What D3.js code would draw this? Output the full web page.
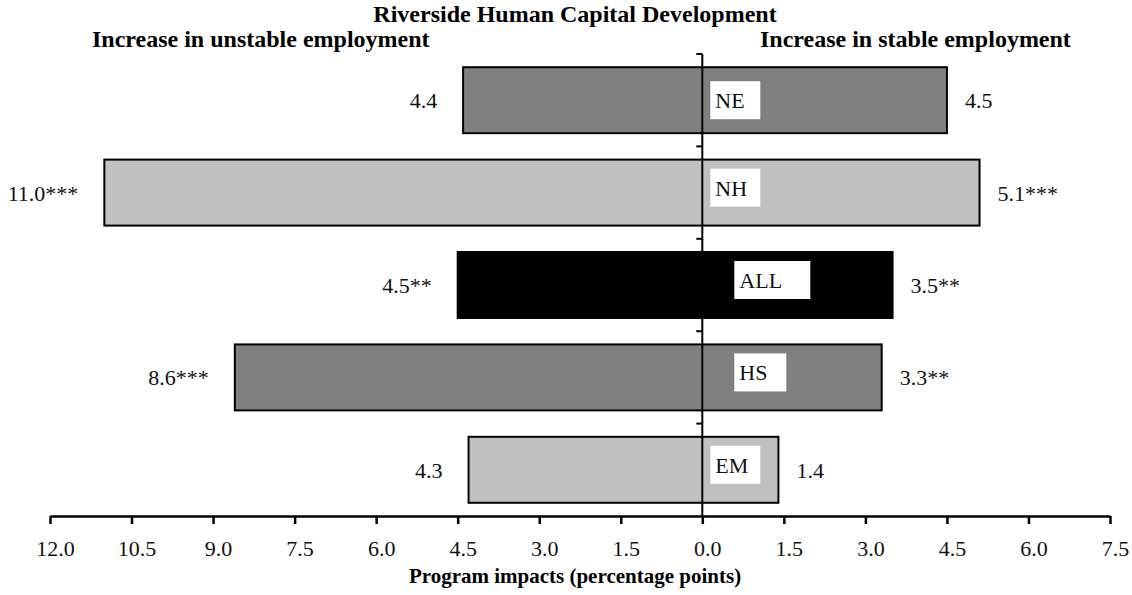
<!DOCTYPE html>
<html>
<head>
<meta charset="utf-8">
<style>
body { margin: 0; background: #fff; }
svg { display: block; font-family: "Liberation Serif", "Times New Roman", serif; }
.heading { font-weight: bold; font-size: 24px; }
.val { font-size: 22px; fill: #111; }
.cat { font-size: 22px; fill: #111; }
.axis text { font-size: 22px; fill: #111; font-family: "Liberation Serif", "Times New Roman", serif; }
.axis path, .axis line { stroke: #000; stroke-width: 2.5; }
.bar { stroke: #000; stroke-width: 2; }
</style>
</head>
<body>
<svg width="1132" height="595"></svg>
<script src="https://cdn.jsdelivr.net/npm/d3@7"></script>
<script>

// data
var groups = ["NE", "NH", "ALL", "HS", "EM"];
var unstable = [4.4, 11.0, 4.5, 8.6, 4.3];   // shown to the left
var stable = [4.5, 5.1, 3.5, 3.3, 1.4];      // shown to the right
var unstableStars = ["", "***", "**", "***", ""];
var stableStars = ["", "***", "**", "**", ""];
var barColors = ["#808080", "#c0c0c0", "#000000", "#808080", "#c0c0c0"];
var tickValues = [-12, -10.5, -9, -7.5, -6, -4.5, -3, -1.5, 0, 1.5, 3, 4.5, 6, 7.5];

var svg = d3.select("svg");

var x = d3.scaleLinear()
  .domain([-12, 7.5])
  .range([50, 1110]);

var y = d3.scaleBand()
  .domain(groups)
  .range([54, 516])
  .paddingInner(0.286)
  .paddingOuter(0.143);

var rows = groups.map(function(g, i) {
  return {name: g, left: unstable[i], right: stable[i],
    ls: unstableStars[i], rs: stableStars[i], color: barColors[i]};
});

// titles
svg.append("text").attr("class", "heading")
  .attr("x", 575).attr("y", 22)
  .attr("text-anchor", "middle")
  .text("Riverside Human Capital Development");
svg.append("text").attr("class", "heading")
  .attr("x", 92).attr("y", 47)
  .text("Increase in unstable employment");
svg.append("text").attr("class", "heading")
  .attr("x", 760).attr("y", 47)
  .text("Increase in stable employment");

// bars, one rect from -left to +right
var g = svg.selectAll(".row")
  .data(rows)
  .enter().append("g")
  .attr("class", "row");

g.append("rect")
  .attr("class", "bar")
  .attr("x", function(d) { return x(-d.left); })
  .attr("y", function(d) { return y(d.name); })
  .attr("width", function(d) { return x(d.right) - x(-d.left); })
  .attr("height", y.bandwidth())
  .attr("fill", function(d) { return d.color; });

var mid = y.bandwidth() / 2;

g.append("text")
  .attr("class", "val")
  .attr("x", function(d) { return x(-d.left) - 26; })
  .attr("y", function(d) { return y(d.name) + mid + 8; })
  .attr("text-anchor", "end")
  .text(function(d) { return d.left.toFixed(1) + d.ls; });

g.append("text")
  .attr("class", "val")
  .attr("x", function(d) { return x(d.right) + 18; })
  .attr("y", function(d) { return y(d.name) + mid + 8; })
  .text(function(d) { return d.right.toFixed(1) + d.rs; });

// center line with small ticks between groups
var x0 = x(0);
svg.append("line")
  .attr("x1", x0).attr("x2", x0)
  .attr("y1", y.range()[0]).attr("y2", y.range()[1])
  .attr("stroke", "#000").attr("stroke-width", 2);

var bounds = groups.map(function(d) { return y(d) - y.step() * y.paddingOuter(); });
svg.selectAll(".ctick")
  .data(bounds)
  .enter().append("line")
  .attr("class", "ctick")
  .attr("x1", x0 - 6).attr("x2", x0)
  .attr("y1", function(d) { return d; })
  .attr("y2", function(d) { return d; })
  .attr("stroke", "#000").attr("stroke-width", 2);

// category boxes
var boxTweak = {ALL: {dx: 32, w: 76}, HS: {dx: 32, w: 52}};
var lab = g.append("g")
  .attr("transform", function(d) {
    var t = boxTweak[d.name] || {dx: 8};
    var dy = d.name == "NE" ? 0 : -5;
    return "translate(" + (x0 + t.dx) + "," + (y(d.name) + mid - 19 + dy) + ")";
  });
lab.append("rect")
  .attr("width", function(d) { return (boxTweak[d.name] || {w: 50}).w; })
  .attr("height", 38)
  .attr("fill", "#fff");
lab.append("text")
  .attr("class", "cat")
  .attr("x", 5)
  .attr("y", 27)
  .text(function(d) { return d.name; });

// x axis
var axis = svg.append("g")
  .attr("class", "axis")
  .attr("transform", "translate(0," + y.range()[1] + ")")
  .call(d3.axisBottom(x)
    .tickValues(tickValues)
    .tickSize(8)
    .tickSizeOuter(0)
    .tickPadding(14)
    .tickFormat(function(d) { return Math.abs(d).toFixed(1); }));
axis.selectAll("text").attr("dx", 5).attr("dy", "0.8em");

svg.append("text")
  .attr("x", 575).attr("y", 583)
  .attr("text-anchor", "middle")
  .attr("font-weight", "bold")
  .attr("font-size", 21)
  .text("Program impacts (percentage points)");

</script>
</body>
</html>
